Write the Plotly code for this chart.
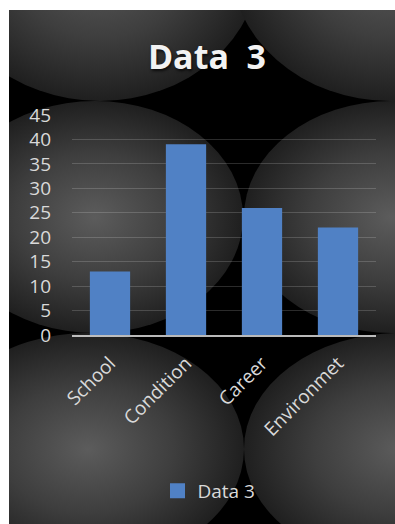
import base64
import plotly.graph_objects as go

categories = ["School", "Condition", "Career", "Environmet"]
values = [13, 39, 26, 22]
series_name = "Data 3"
title_text = "Data\u00a0\u00a03"
y_ticks = [0, 5, 10, 15, 20, 25, 30, 35, 40, 45]

W, H = 395, 524
L, R, T, B = 72, 19, 115, 189
PW, PH = W - L - R, H - T - B
bar_color = "#5081c5"

# decorative background (radial-gradient ellipses on black)
ellipses = [
    (100, -39, 160, 140),
    (390, -39, 160, 140),
    (95, 217, 148, 116),
    (392, 217, 148, 116),
    (88, 449, 156, 116),
    (400, 449, 156, 116),
]
svg = [
    "<svg xmlns='http://www.w3.org/2000/svg' width='386' height='514' viewBox='9 10 386 514' preserveAspectRatio='none'>",
    "<defs><radialGradient id='g' cx='50%' cy='50%' r='50%'>",
    "<stop offset='0' stop-color='#5c5c5c'/><stop offset='0.55' stop-color='#3e3e3e'/>",
    "<stop offset='1' stop-color='#1f1f1f'/></radialGradient></defs>",
    "<rect x='9' y='10' width='386' height='514' fill='#000'/>",
]
for cx, cy, rx, ry in ellipses:
    svg.append(f"<ellipse cx='{cx}' cy='{cy}' rx='{rx}' ry='{ry}' fill='url(#g)'/>")
svg.append("</svg>")
src = "data:image/svg+xml;base64," + base64.b64encode("".join(svg).encode()).decode()

x0 = (9 - L) / PW
x1 = (395 - L) / PW
ytop = (H - B - 10) / PH
ybot = (H - B - 524) / PH

txt = "#d9d9d9"
fam = "Open Sans"

fig = go.Figure()
fig.add_trace(go.Bar(
    x=categories, y=values, name=series_name,
    marker=dict(color=bar_color, line=dict(width=0)),
    showlegend=False,
))
# legend entry with a larger square swatch
fig.add_trace(go.Scatter(
    x=[None], y=[None], mode="markers", name=series_name,
    marker=dict(symbol="square", size=15, color=bar_color, line=dict(width=0)),
    showlegend=True,
))

fig.update_layout(
    width=W, height=H, autosize=False,
    margin=dict(l=L, r=R, t=T, b=B, pad=0),
    paper_bgcolor="white",
    plot_bgcolor="rgba(0,0,0,0)",
    bargap=0.47,
    font=dict(family=fam, color=txt, size=19),
    title=dict(
        text=title_text, x=207 / W, xref="container", xanchor="center",
        y=1 - 57 / H, yref="container", yanchor="middle",
        font=dict(family=fam, size=34, color="#f2f2f2", weight="bold",
                  shadow="1px 2px 3px rgba(0,0,0,0.7)"),
    ),
    images=[dict(source=src, xref="paper", yref="paper", x=x0, y=ytop,
                 sizex=x1 - x0, sizey=ytop - ybot, xanchor="left", yanchor="top",
                 sizing="stretch", layer="below")],
    legend=dict(orientation="h", x=(209 - L) / PW, xanchor="center",
                y=(H - B - 491) / PH, yanchor="middle",
                itemwidth=30,
                font=dict(family=fam, size=19, color=txt),
                bgcolor="rgba(0,0,0,0)"),
)
fig.update_yaxes(range=[0, 45], tickvals=y_ticks, showgrid=True,
                 gridcolor="rgba(255,255,255,0.17)", gridwidth=1,
                 zeroline=False, showline=False, ticks="",
                 ticklabelstandoff=20,
                 tickfont=dict(family=fam, size=19, color=txt))
fig.update_xaxes(showline=True, linecolor="rgba(217,217,217,0.85)", linewidth=1.5,
                 ticks="", tickangle=-45, showgrid=False,
                 ticklabelstandoff=8,
                 tickfont=dict(family=fam, size=19, color=txt))

fig.write_html("out.html")
